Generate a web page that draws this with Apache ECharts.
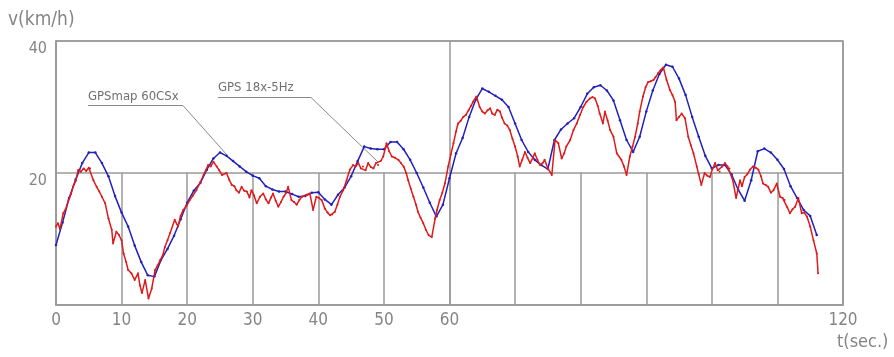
<!DOCTYPE html>
<html>
<head>
<meta charset="utf-8">
<script src="https://cdn.jsdelivr.net/npm/echarts@6/dist/echarts.min.js"></script>
<style>
  html, body { margin: 0; padding: 0; background: #ffffff; }
  #chart { width: 894px; height: 357px; }
</style>
</head>
<body>
<div id="chart"></div>
<script>
// ---- data ----
// GPSmap 60CSx (1 Hz), sample i is at t = i seconds
const blueStep = 1;
const blueV = [
  9.1, 12.5, 16.2, 19.0, 21.5, 23.1, 23.1, 21.5, 19.5, 16.5,
  14.0, 11.9, 9.0, 6.5, 4.5, 4.3, 6.8, 8.5, 10.5, 13.0,
  15.5, 17.3, 18.5, 20.5, 22.2, 23.1, 22.6, 21.8, 21.0, 20.2,
  19.6, 19.2, 18.0, 17.5, 17.2, 17.2, 16.8, 16.4, 16.5, 17.0,
  17.1, 16.0, 15.2, 16.7, 17.8, 19.5, 21.8, 24.0, 23.7, 23.6,
  23.6, 24.7, 24.7, 23.6, 22.0, 20.0, 17.8, 15.5, 13.4, 15.2,
  19.2, 23.0, 25.3, 28.5, 31.1, 32.8, 32.3, 31.7, 31.1, 30.0,
  27.5, 25.0, 23.2, 22.0, 21.2, 20.6, 25.0, 26.6, 27.5, 28.3,
  30.0, 32.0, 33.0, 33.3, 32.5, 31.0, 28.0, 25.0, 23.2, 25.5,
  29.3, 32.5, 35.0, 36.4, 36.1, 34.3, 31.8, 28.5, 25.5, 22.6,
  20.7, 21.2, 21.2, 19.8, 17.5, 15.8, 18.9, 23.3, 23.7, 23.1,
  22.0, 20.6, 18.0, 16.2, 14.4, 13.5, 10.6
];

// GPS 18x-5Hz
const redT = [
  0, 0.3, 0.6, 1.1, 1.5, 1.9, 2.3, 2.6, 3.0, 3.4, 3.8, 4.2, 4.6, 5.0, 5.2, 5.7, 6.2, 6.6, 7.0, 7.5,
  8.0, 8.5, 8.7, 9.2, 9.6, 10.0, 10.3, 10.7, 11.0, 11.5, 12.0, 12.5, 12.8, 13.1, 13.6, 14.1, 14.6, 15.1, 15.5, 15.9,
  16.3, 16.6, 17.0, 17.4, 18.1, 18.6, 19.0, 19.4, 19.9, 20.4, 20.9, 21.4, 22.0, 22.5, 23.2, 23.6, 24.0, 24.5, 24.9, 25.3,
  26.0, 26.4, 26.8, 27.2, 27.5, 27.9, 28.3, 28.7, 29.1, 29.5, 29.8, 30.2, 30.6, 31.1, 31.6, 32.0, 32.4, 32.8, 33.1, 33.5,
  33.9, 34.3, 34.7, 35.1, 35.4, 35.9, 36.3, 36.7, 37.1, 37.5, 38.2, 38.7, 39.2, 39.7, 40.1, 40.5, 41.0, 41.4, 41.8, 42.1,
  42.5, 42.9, 43.3, 43.8, 44.3, 44.8, 45.3, 45.7, 46.1, 46.5, 46.8, 47.2, 47.6, 48.0, 48.4, 48.8, 49.1, 49.5, 49.9, 50.4,
  50.8, 51.2, 51.7, 52.2, 52.6, 53.0, 53.4, 53.7, 54.1, 54.5, 54.9, 55.2, 55.6, 56.0, 56.4, 56.8, 57.3, 57.8, 58.1, 58.5,
  58.9, 59.3, 59.8, 60.2, 60.6, 61.0, 61.3, 61.7, 62.1, 62.5, 62.9, 63.3, 63.6, 64.1, 64.6, 65.0, 65.4, 65.8, 66.2, 66.5,
  66.9, 67.3, 67.7, 68.0, 68.4, 68.8, 69.2, 69.6, 70.0, 70.4, 70.7, 71.1, 71.5, 71.9, 72.3, 72.7, 73.0, 73.4, 73.8, 74.2,
  74.5, 75.0, 75.6, 76.1, 76.6, 77.1, 77.5, 77.8, 78.4, 78.9, 79.4, 79.9, 80.4, 80.9, 81.4, 81.8, 82.2, 82.6, 82.9, 83.4,
  83.7, 84.1, 84.5, 85.0, 85.5, 86.2, 86.6, 87.0, 87.5, 87.9, 88.3, 88.7, 89.0, 89.5, 89.9, 90.3, 90.7, 91.1, 91.4, 91.8,
  92.2, 92.6, 93.1, 93.6, 94.0, 94.4, 94.6, 95.0, 95.4, 95.9, 96.4, 96.8, 97.2, 97.7, 98.0, 98.4, 98.9, 99.3, 99.7, 100.1,
  100.5, 100.9, 101.2, 101.6, 102.0, 102.4, 102.7, 103.2, 103.7, 104.3, 104.6, 105.0, 105.4, 105.8, 106.3, 106.7, 107.1, 107.5, 107.8, 108.2,
  108.6, 109.0, 109.4, 109.9, 110.4, 110.8, 111.1, 111.5, 111.9, 112.3, 112.7, 113.2, 113.7, 114.1, 114.5, 115.0, 115.5, 116.0, 116.2
];
const redV = [
  11.9, 12.4, 11.5, 13.9, 14.6, 15.9, 16.8, 17.9, 18.8, 20.5, 20.2, 20.7, 20.3, 20.8, 20.7, 18.9, 17.9, 17.2, 16.4, 15.4,
  13.1, 11.4, 9.3, 11.1, 10.6, 9.8, 7.8, 6.5, 5.3, 4.8, 3.8, 4.8, 3.0, 1.8, 3.8, 1.0, 2.5, 5.3, 6.0, 6.8,
  7.6, 8.8, 9.8, 10.9, 12.9, 11.9, 13.5, 14.4, 15.0, 15.9, 16.6, 17.4, 18.6, 19.7, 21.2, 21.0, 21.7, 21.0, 20.4, 19.7,
  20.0, 19.0, 18.2, 18.0, 17.4, 17.0, 17.9, 17.3, 17.2, 16.3, 17.4, 16.6, 15.4, 16.4, 16.9, 16.0, 15.4, 16.3, 16.9, 15.8,
  14.9, 15.6, 16.4, 17.0, 17.9, 15.9, 15.6, 15.2, 15.9, 16.4, 16.7, 16.9, 14.4, 16.4, 16.2, 15.9, 14.6, 14.0, 13.6, 13.7,
  14.1, 15.2, 16.4, 17.4, 18.9, 20.5, 21.2, 21.0, 21.5, 20.7, 21.0, 20.4, 21.5, 20.9, 20.7, 21.5, 21.2, 21.8, 22.5, 24.5,
  23.3, 22.5, 22.3, 22.0, 21.5, 21.0, 20.0, 18.9, 17.6, 16.4, 15.2, 14.1, 13.2, 12.4, 11.4, 10.6, 10.3, 13.1, 14.4, 15.9,
  17.0, 18.4, 21.0, 22.8, 24.5, 26.3, 27.5, 27.9, 28.5, 28.8, 29.5, 30.2, 30.8, 31.6, 30.0, 29.3, 29.0, 29.5, 29.8, 29.0,
  28.8, 29.6, 29.3, 28.4, 27.5, 27.2, 26.5, 25.2, 24.0, 22.5, 21.0, 22.0, 23.2, 22.3, 21.5, 22.3, 23.0, 22.0, 21.2, 21.5,
  22.0, 20.7, 19.7, 25.0, 24.5, 22.2, 23.0, 24.0, 25.0, 26.5, 27.5, 28.8, 30.0, 30.8, 31.3, 31.5, 31.3, 30.2, 29.0, 27.5,
  29.3, 28.0, 26.5, 25.5, 23.0, 22.0, 21.0, 19.7, 22.5, 24.0, 25.5, 27.5, 29.3, 31.6, 33.0, 33.8, 33.9, 34.1, 34.5, 35.1,
  35.6, 36.0, 34.1, 32.6, 31.8, 30.8, 28.0, 28.5, 29.0, 28.3, 25.5, 24.2, 23.0, 21.0, 19.8, 18.2, 20.0, 19.6, 19.4, 20.6,
  21.5, 20.4, 20.2, 21.0, 21.5, 21.0, 20.7, 18.9, 16.2, 18.9, 18.0, 19.4, 19.8, 20.5, 21.0, 20.8, 20.5, 19.5, 18.4, 18.2,
  17.9, 17.0, 17.4, 18.4, 16.4, 16.2, 15.9, 14.8, 13.9, 14.5, 14.9, 16.2, 13.9, 14.0, 13.4, 11.9, 9.8, 7.8, 4.8
];

const xTickLabels = ['0', '10', '20', '30', '40', '50', '60', '', '', '', '', '', '120'];
const yTickLabels = ['', '20', '40'];
const seriesNames = ['GPSmap 60CSx', 'GPS 18x-5Hz'];

// ---- chart ----
const GRAY = '#9a9a9a';
const TXT = '#858585';
const FONT = '"Liberation Sans Narrow", "DejaVu Sans Condensed", "Liberation Sans", sans-serif';

const chart = echarts.init(document.getElementById('chart'), null, { renderer: 'canvas' });

const blueData = blueV.map((v, i) => [i * blueStep, v]);
const redData = redT.map((t, i) => [t, redV[i]]);

const area = { left: 56, right: 51, top: 41, bottom: 52 };

chart.setOption({
  animation: false,
  backgroundColor: '#ffffff',
  grid: [
    Object.assign({ show: true, borderColor: GRAY, borderWidth: 1.5, backgroundColor: 'transparent' }, area),
    Object.assign({}, area),
    { left: 56, right: 51, top: 173, bottom: 52 }
  ],
  xAxis: [
    {
      gridIndex: 0, type: 'value', min: 0, max: 120, interval: 10,
      axisLine: { show: true, lineStyle: { color: GRAY, width: 1.5 } },
      axisTick: { show: false },
      splitLine: { show: false },
      axisLabel: {
        color: TXT, fontFamily: FONT, fontSize: 17, margin: 7,
        formatter: (v) => xTickLabels[Math.round(v / 10)] || ''
      }
    },
    {
      gridIndex: 1, type: 'value', min: 0, max: 120, interval: 60,
      axisLine: { show: false }, axisTick: { show: false }, axisLabel: { show: false },
      splitLine: { show: true, lineStyle: { color: GRAY, width: 1.5 } }
    },
    {
      gridIndex: 2, type: 'value', min: 0, max: 120, interval: 10,
      axisLine: { show: false }, axisTick: { show: false }, axisLabel: { show: false },
      splitLine: { show: true, lineStyle: { color: GRAY, width: 1.5 } }
    }
  ],
  yAxis: [
    {
      gridIndex: 0, type: 'value', min: 0, max: 40, interval: 20,
      axisLine: { show: true, lineStyle: { color: GRAY, width: 1.5 } },
      axisTick: { show: false },
      splitLine: { show: true, lineStyle: { color: GRAY, width: 1.5 } },
      axisLabel: {
        color: TXT, fontFamily: FONT, fontSize: 16, margin: 9, verticalAlign: 'top',
        formatter: (v) => yTickLabels[Math.round(v / 20)] || ''
      }
    },
    { gridIndex: 1, type: 'value', min: 0, max: 1, show: false, splitLine: { show: false } },
    { gridIndex: 2, type: 'value', min: 0, max: 1, show: false, splitLine: { show: false } }
  ],
  series: [
    {
      name: seriesNames[0], type: 'line', xAxisIndex: 0, yAxisIndex: 0,
      data: blueData,
      symbol: 'circle', symbolSize: 2.5, showSymbol: true,
      itemStyle: { color: '#2222bb' },
      lineStyle: { color: '#2222bb', width: 1.5 },
      z: 3
    },
    {
      name: seriesNames[1], type: 'line', xAxisIndex: 0, yAxisIndex: 0,
      data: redData,
      symbol: 'circle', symbolSize: 2, showSymbol: true,
      itemStyle: { color: '#e01a1a' },
      lineStyle: { color: '#e01a1a', width: 1.5 },
      z: 4
    }
  ],
  graphic: [
    { type: 'text', left: 8, top: 11, style: { text: 'v(km/h)', fill: TXT, font: '19px ' + FONT } },
    { type: 'text', left: 837, top: 333, style: { text: 't(sec.)', fill: TXT, font: '18px ' + FONT } },
    { type: 'text', left: 88, top: 90, style: { text: seriesNames[0], fill: '#707070', font: '13px ' + FONT } },
    { type: 'polyline', shape: { points: [[88, 105.5], [183, 105.5], [227, 155]] }, style: { stroke: '#8a8a8a', lineWidth: 1, fill: null } },
    { type: 'text', left: 218, top: 81, style: { text: seriesNames[1], fill: '#707070', font: '13px ' + FONT } },
    { type: 'polyline', shape: { points: [[218, 97.5], [311, 97.5], [378, 162]] }, style: { stroke: '#8a8a8a', lineWidth: 1, fill: null } }
  ]
});
</script>
</body>
</html>
